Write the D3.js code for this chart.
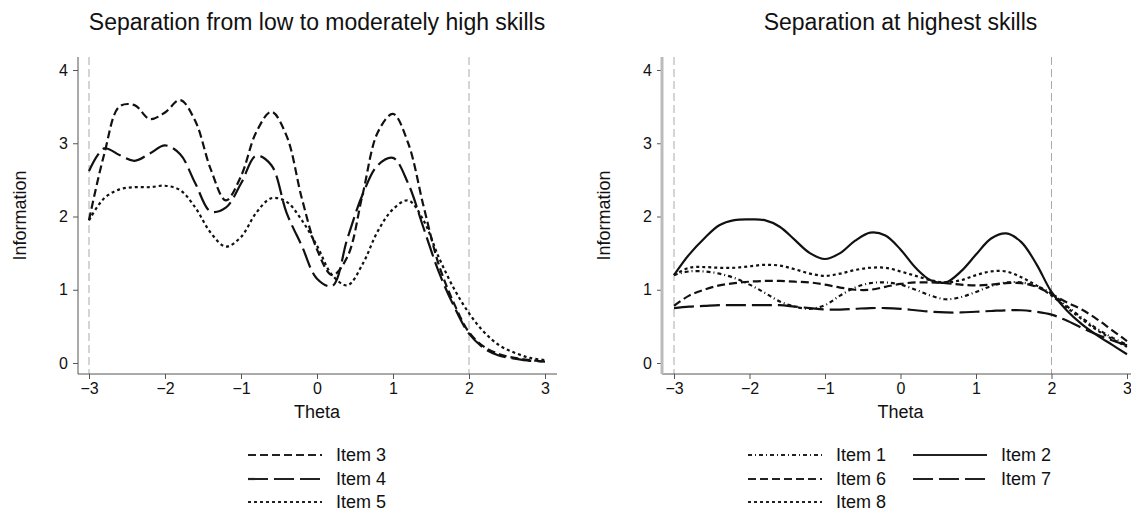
<!DOCTYPE html>
<html><head><meta charset="utf-8">
<script src="https://cdn.jsdelivr.net/npm/d3@7/dist/d3.min.js"></script>
<style>
html,body{margin:0;padding:0;background:#fff;}
svg text{font-family:"Liberation Sans",Arial,Helvetica,sans-serif;fill:#111;}
</style></head>
<body>
<svg id="chart" width="1131" height="512"></svg>
<script>
const theta = [-3,-2.8,-2.6,-2.4,-2.2,-2,-1.8,-1.6,-1.4,-1.2,-1,-0.8,-0.6,-0.4,-0.2,0,0.2,0.4,0.6,0.8,1,1.2,1.4,1.6,1.8,2,2.2,2.4,2.6,2.8,3];
const xTicks = [-3,-2,-1,0,1,2,3];
const yTicks = [0,1,2,3,4];
const refLines = [-3,2];

const item3 = [1.95,2.85,3.5,3.52,3.33,3.42,3.59,3.3,2.65,2.22,2.55,3.15,3.43,3.1,2.25,1.55,1.2,1.45,2.3,3.15,3.4,3.0,2.15,1.35,0.82,0.42,0.22,0.12,0.07,0.04,0.02];
const item4 = [2.62,2.93,2.84,2.76,2.86,2.97,2.85,2.45,2.07,2.12,2.45,2.83,2.7,2.05,1.6,1.15,1.05,1.7,2.3,2.7,2.8,2.45,1.85,1.25,0.78,0.4,0.2,0.1,0.06,0.03,0.02];
const item5 = [1.95,2.25,2.37,2.4,2.4,2.42,2.36,2.12,1.78,1.59,1.72,2.05,2.25,2.2,1.95,1.6,1.2,1.06,1.35,1.8,2.1,2.22,1.95,1.45,1.02,0.68,0.42,0.24,0.14,0.07,0.04];

const item1 = [1.2,1.25,1.25,1.22,1.16,1.07,0.96,0.84,0.77,0.74,0.79,0.92,1.03,1.09,1.1,1.07,1.0,0.92,0.87,0.9,0.97,1.05,1.1,1.1,1.05,0.95,0.78,0.62,0.47,0.35,0.25];
const item2 = [1.2,1.48,1.7,1.88,1.95,1.96,1.95,1.86,1.68,1.5,1.42,1.5,1.67,1.78,1.74,1.55,1.3,1.13,1.1,1.25,1.48,1.7,1.77,1.65,1.35,0.97,0.72,0.53,0.38,0.25,0.12];
const item6 = [0.78,0.92,1.0,1.06,1.09,1.11,1.12,1.12,1.11,1.1,1.07,1.03,1.0,1.0,1.04,1.08,1.1,1.1,1.09,1.07,1.06,1.07,1.09,1.09,1.04,0.94,0.83,0.73,0.6,0.45,0.3];
const item7 = [0.75,0.77,0.78,0.79,0.79,0.79,0.79,0.79,0.77,0.75,0.73,0.73,0.74,0.75,0.75,0.74,0.72,0.7,0.69,0.69,0.7,0.71,0.72,0.72,0.7,0.66,0.58,0.48,0.39,0.31,0.24];
const item8 = [1.2,1.3,1.31,1.3,1.3,1.32,1.34,1.33,1.28,1.22,1.19,1.22,1.27,1.3,1.3,1.25,1.19,1.13,1.1,1.13,1.2,1.25,1.25,1.17,1.06,0.92,0.76,0.6,0.45,0.33,0.22];

const DASH = {shortdash:"8,4", longdash:"20,6", dot:"3,3", dashdot:"4,3,1,3", solid:null};

const panels = [
  {title:"Separation from low to moderately high skills", axisX:[78,557], range:[89,545], yAxisStyle:{stroke:"#555",w:1},
   series:[{name:"Item 3",v:item3,d:"shortdash"},{name:"Item 4",v:item4,d:"longdash"},{name:"Item 5",v:item5,d:"dot"}],
   legend:[{name:"Item 3",d:"shortdash",col:0,row:0},{name:"Item 4",d:"longdash",col:0,row:1},{name:"Item 5",d:"dot",col:0,row:2}],
   legendCols:[248]},
  {title:"Separation at highest skills", axisX:[662,1131], range:[674,1127], yAxisStyle:{stroke:"#bbb",w:3},
   series:[{name:"Item 1",v:item1,d:"dashdot"},{name:"Item 2",v:item2,d:"solid"},{name:"Item 6",v:item6,d:"shortdash"},{name:"Item 7",v:item7,d:"longdash"},{name:"Item 8",v:item8,d:"dot"}],
   legend:[{name:"Item 1",d:"dashdot",col:0,row:0},{name:"Item 2",d:"solid",col:1,row:0},{name:"Item 6",d:"shortdash",col:0,row:1},{name:"Item 7",d:"longdash",col:1,row:1},{name:"Item 8",d:"dot",col:0,row:2}],
   legendCols:[748,913]}
];

const svg = d3.select("#chart");
const yTop = 57, yBase = 374;
const y = d3.scaleLinear().domain([0,4]).range([363,70]);

panels.forEach(p => {
  const x = d3.scaleLinear().domain([-3,3]).range(p.range);
  const g = svg.append("g");
  g.append("text").attr("x", (p.range[0]+p.range[1])/2).attr("y",30).attr("text-anchor","middle")
    .style("font-size","23px").text(p.title);
  g.selectAll(".ref").data(refLines).enter().append("line")
    .attr("x1",d=>x(d)).attr("x2",d=>x(d)).attr("y1",yTop).attr("y2",yBase)
    .attr("stroke","#aaa").attr("stroke-width",1).attr("stroke-dasharray","8,4");
  const xa = g.append("g").attr("transform",`translate(0,${yBase})`)
    .call(d3.axisBottom(x).tickValues(xTicks).tickSize(5).tickPadding(4).tickFormat(d3.format("d")));
  xa.select(".domain").remove();
  g.append("line").attr("x1",p.axisX[0]).attr("x2",p.axisX[1]).attr("y1",yBase).attr("y2",yBase).attr("stroke","#555");
  xa.selectAll(".tick line").attr("stroke","#555");
  xa.selectAll(".tick text").style("font-size","16px").attr("fill","#111");
  const ya = g.append("g").attr("transform",`translate(${p.axisX[0]},0)`)
    .call(d3.axisLeft(y).tickValues(yTicks).tickSize(5).tickPadding(5).tickFormat(d3.format("d")));
  ya.select(".domain").remove();
  g.append("line").attr("x1",p.axisX[0]).attr("x2",p.axisX[0]).attr("y1",yTop).attr("y2",yBase)
    .attr("stroke",p.yAxisStyle.stroke).attr("stroke-width",p.yAxisStyle.w);
  ya.selectAll(".tick line").attr("stroke","#555");
  ya.selectAll(".tick text").style("font-size","16px").attr("fill","#111");
  g.append("text").attr("x",x(0)).attr("y",418).attr("text-anchor","middle").style("font-size","18px").text("Theta");
  g.append("text").attr("transform",`translate(${p.axisX[0]-52},${(yTop+yBase)/2}) rotate(-90)`)
    .attr("text-anchor","middle").style("font-size","18px").text("Information");
  const line = d3.line().x((d,i)=>x(theta[i])).y(d=>y(d)).curve(d3.curveCatmullRom.alpha(0.5));
  p.series.forEach(s => {
    g.append("path").attr("d", line(s.v)).attr("fill","none").attr("stroke","#111")
      .attr("stroke-width",2.2).attr("stroke-dasharray",DASH[s.d]);
  });
  const rowY = [455,479,502];
  p.legend.forEach(l => {
    const lx = p.legendCols[l.col], ly = rowY[l.row];
    g.append("line").attr("x1",lx).attr("x2",lx+74).attr("y1",ly).attr("y2",ly)
      .attr("stroke","#222").attr("stroke-width",2.2).attr("stroke-dasharray",DASH[l.d]);
    g.append("text").attr("x",lx+88).attr("y",ly+6).style("font-size","18px").text(l.name);
  });
});
</script>
</body></html>
